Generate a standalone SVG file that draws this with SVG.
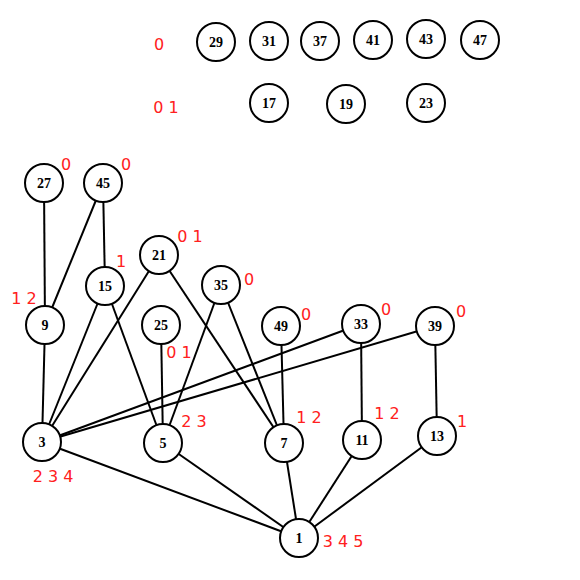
<svg xmlns="http://www.w3.org/2000/svg" width="580" height="580" viewBox="0 0 580 580">
<style>
.n circle{fill:#fff;stroke:#000;stroke-width:2}
.n text{font-family:"Liberation Serif",serif;font-weight:bold;font-size:14px;text-anchor:middle;dominant-baseline:central;fill:#000}
.e line{stroke:#000;stroke-width:2}
.l{font-family:"DejaVu Sans",sans-serif;font-size:16px;fill:#ff2020;text-anchor:middle;dominant-baseline:central}
</style>
<rect width="580" height="580" fill="#fff"/>
<g id="connectors" class="e">
<line x1="44" y1="183" x2="45" y2="325"/>
<line x1="103" y1="183" x2="45" y2="325"/>
<line x1="103" y1="183" x2="105" y2="285"/>
<line x1="105" y1="285" x2="42" y2="442"/>
<line x1="105" y1="285" x2="163" y2="443"/>
<line x1="159" y1="255" x2="42" y2="442"/>
<line x1="159" y1="255" x2="284" y2="443"/>
<line x1="221" y1="285" x2="163" y2="443"/>
<line x1="221" y1="285" x2="284" y2="443"/>
<line x1="161" y1="325" x2="163" y2="443"/>
<line x1="281" y1="326" x2="284" y2="443"/>
<line x1="361" y1="324" x2="42" y2="442"/>
<line x1="435" y1="326" x2="42" y2="442"/>
<line x1="361" y1="324" x2="362" y2="440"/>
<line x1="435" y1="326" x2="437" y2="436"/>
<line x1="45" y1="325" x2="42" y2="442"/>
<line x1="42" y1="442" x2="299" y2="538"/>
<line x1="163" y1="443" x2="299" y2="538"/>
<line x1="284" y1="443" x2="299" y2="538"/>
<line x1="362" y1="440" x2="299" y2="538"/>
<line x1="437" y1="436" x2="299" y2="538"/>
</g>
<g id="n29" class="n"><circle cx="216" cy="42" r="19"/><text x="216" y="42">29</text></g>
<g id="n31" class="n"><circle cx="269" cy="41" r="19"/><text x="269" y="41">31</text></g>
<g id="n37" class="n"><circle cx="320" cy="41" r="19"/><text x="320" y="41">37</text></g>
<g id="n41" class="n"><circle cx="373" cy="40" r="19"/><text x="373" y="40">41</text></g>
<g id="n43" class="n"><circle cx="426" cy="39" r="19"/><text x="426" y="39">43</text></g>
<g id="n47" class="n"><circle cx="480" cy="40" r="19"/><text x="480" y="40">47</text></g>
<g id="n17" class="n"><circle cx="269" cy="103" r="19"/><text x="269" y="103">17</text></g>
<g id="n19" class="n"><circle cx="346" cy="104" r="19"/><text x="346" y="104">19</text></g>
<g id="n23" class="n"><circle cx="426" cy="103" r="19"/><text x="426" y="103">23</text></g>
<g id="n27" class="n"><circle cx="44" cy="183" r="19"/><text x="44" y="183">27</text></g>
<g id="n45" class="n"><circle cx="103" cy="183" r="19"/><text x="103" y="183">45</text></g>
<g id="n21" class="n"><circle cx="159" cy="255" r="19"/><text x="159" y="255">21</text></g>
<g id="n15" class="n"><circle cx="105" cy="286" r="19"/><text x="105" y="286">15</text></g>
<g id="n35" class="n"><circle cx="221" cy="285" r="19"/><text x="221" y="285">35</text></g>
<g id="n9" class="n"><circle cx="45" cy="325" r="19"/><text x="45" y="325">9</text></g>
<g id="n25" class="n"><circle cx="161" cy="325" r="19"/><text x="161" y="325">25</text></g>
<g id="n49" class="n"><circle cx="281" cy="326" r="19"/><text x="281" y="326">49</text></g>
<g id="n33" class="n"><circle cx="361" cy="324" r="19"/><text x="361" y="324">33</text></g>
<g id="n39" class="n"><circle cx="435" cy="326" r="19"/><text x="435" y="326">39</text></g>
<g id="n3" class="n"><circle cx="42" cy="442" r="19"/><text x="42" y="442">3</text></g>
<g id="n5" class="n"><circle cx="163" cy="443" r="19"/><text x="163" y="443">5</text></g>
<g id="n7" class="n"><circle cx="284" cy="443" r="19"/><text x="284" y="443">7</text></g>
<g id="n11" class="n"><circle cx="362" cy="440" r="19"/><text x="362" y="440">11</text></g>
<g id="n13" class="n"><circle cx="437" cy="436" r="19"/><text x="437" y="436">13</text></g>
<g id="n1" class="n"><circle cx="299" cy="538" r="19"/><text x="299" y="538">1</text></g>
<g id="labels">
<text class="l" x="159" y="44">0</text>
<text class="l" x="166" y="107">0 1</text>
<text class="l" x="66" y="164">0</text>
<text class="l" x="126" y="164">0</text>
<text class="l" x="190" y="236">0 1</text>
<text class="l" x="121" y="261">1</text>
<text class="l" x="249" y="279">0</text>
<text class="l" x="24" y="298">1 2</text>
<text class="l" x="179" y="352">0 1</text>
<text class="l" x="306" y="314">0</text>
<text class="l" x="386" y="309">0</text>
<text class="l" x="461" y="311">0</text>
<text class="l" x="194" y="421">2 3</text>
<text class="l" x="309" y="417">1 2</text>
<text class="l" x="387" y="413">1 2</text>
<text class="l" x="462" y="421">1</text>
<text class="l" x="53" y="476">2 3 4</text>
<text class="l" x="343" y="541">3 4 5</text>
</g>
</svg>
